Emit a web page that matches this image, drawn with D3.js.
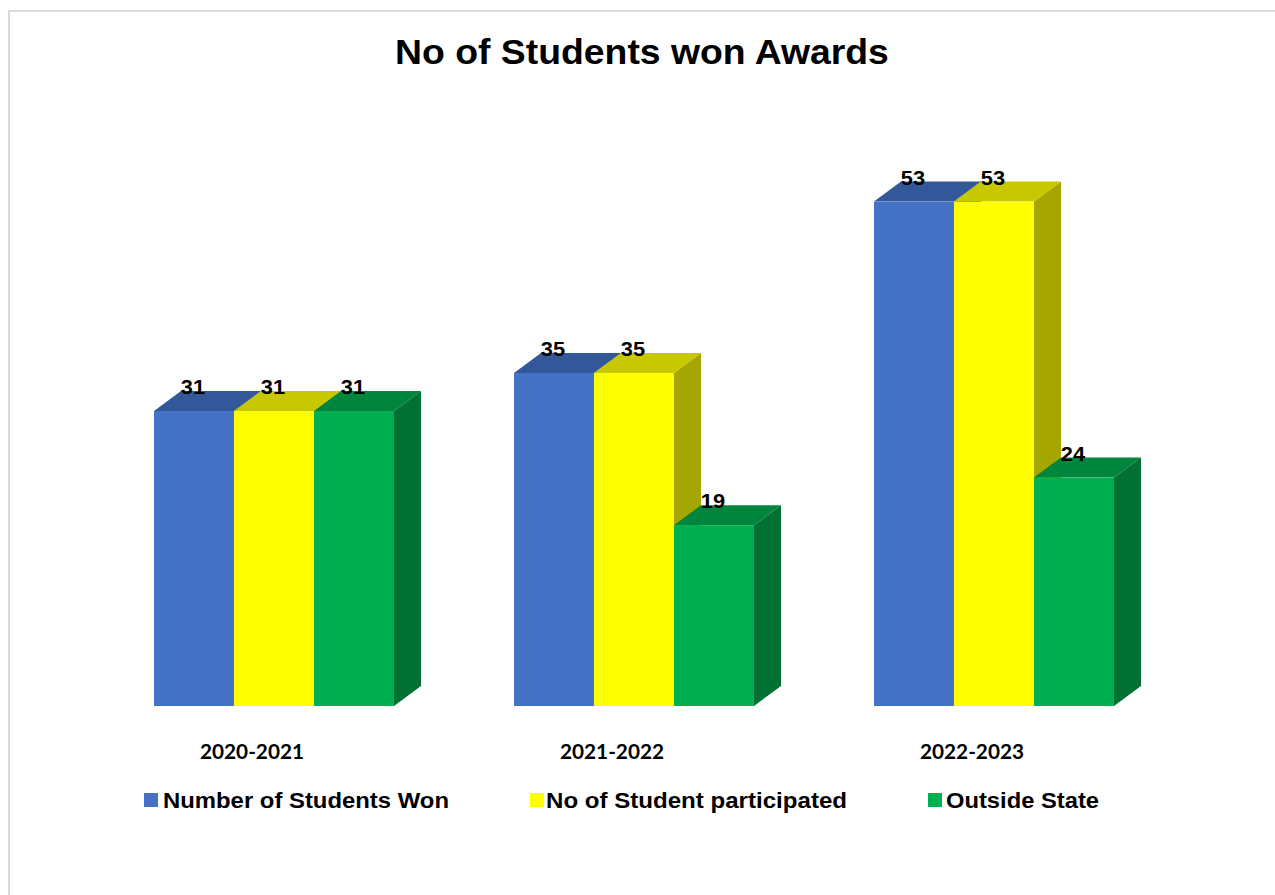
<!DOCTYPE html>
<html>
<head>
<meta charset="utf-8">
<script src="https://cdn.jsdelivr.net/npm/d3@7"></script>
<style>
  body { margin: 0; background: #fff; }
</style>
</head>
<body>
<div id="chart"></div>
<script>
// data
const years = ['2020-2021', '2021-2022', '2022-2023'];
const seriesNames = ['Number of Students Won', 'No of Student participated', 'Outside State'];
const wonValues = [31, 35, 53];
const participatedValues = [31, 35, 53];
const outsideValues = [31, 19, 24];

const w = 1275, h = 895;
const svg = d3.select('#chart').append('svg').attr('width', w).attr('height', h);

// the source text is drawn a bit wider than the fonts we have
const stretch = function(sel, k) {
  sel.each(function() {
    const len = this.getComputedTextLength();
    d3.select(this).attr('textLength', len * k).attr('lengthAdjust', 'spacingAndGlyphs');
  });
};

// light frame round the chart
svg.append('rect')
  .attr('x', 9).attr('y', 11).attr('width', 1270).attr('height', 900)
  .attr('fill', '#fff').attr('stroke', '#d9d9d9').attr('stroke-width', 2);

svg.append('text')
  .attr('x', 642).attr('y', 64)
  .attr('text-anchor', 'middle')
  .style('font-family', 'Liberation Sans, Arial, sans-serif')
  .style('font-weight', 'bold').style('font-size', '35px')
  .text('No of Students won Awards')
  .call(stretch, 1.067);

// front / top / side shades per series
const colors = [
  { front: '#4472C4', top: '#32589a', side: '#2c4f8c' },
  { front: '#FFFF00', top: '#c8c800', side: '#a6a600' },
  { front: '#00B050', top: '#00853d', side: '#007033' }
];

const x0 = d3.scaleBand().domain(years).range([94, 1174]);
const x1 = d3.scaleBand().domain(d3.range(3)).range([60, 300]);
const y = d3.scaleLinear().domain([0, 60]).range([706, 135]);
const dx = 27, dy = 20;

const rows = years.map((yr, i) => ({
  year: yr,
  vals: [wonValues[i], participatedValues[i], outsideValues[i]]
}));

const groups = svg.selectAll('.grp').data(rows).enter()
  .append('g').attr('class', 'grp')
  .attr('transform', d => `translate(${x0(d.year)},0)`);

groups.each(function(d) {
  const g = d3.select(this);
  d.vals.forEach((v, j) => {
    const bx = x1(j), bw = x1.bandwidth();
    const top = y(v), base = y(0);
    const c = colors[j];
    // side
    g.append('path')
      .attr('d', `M${bx + bw},${top} L${bx + bw + dx},${top - dy} L${bx + bw + dx},${base - dy} L${bx + bw},${base} Z`)
      .attr('fill', c.side);
    // top
    g.append('path')
      .attr('d', `M${bx},${top} L${bx + dx},${top - dy} L${bx + bw + dx},${top - dy} L${bx + bw},${top} Z`)
      .attr('fill', c.top);
    // front
    g.append('rect')
      .attr('x', bx).attr('y', top).attr('width', bw).attr('height', base - top)
      .attr('fill', c.front);
  });
  d.vals.forEach((v, j) => {
    g.append('text')
      .attr('x', x1(j) + x1.bandwidth() / 2 - 1)
      .attr('y', y(v) - 17)
      .attr('text-anchor', 'middle')
      .style('font-family', 'Liberation Sans, Arial, sans-serif')
      .style('font-weight', 'bold').style('font-size', '21px')
      .text(v)
      .call(stretch, 1.04);
  });
  g.append('text')
    .attr('x', x0.bandwidth() / 2 - 22)
    .attr('y', 759)
    .attr('text-anchor', 'middle')
    .style('font-family', 'Lato, Carlito, Calibri, sans-serif')
    .style('font-weight', 'bold').style('font-size', '21px')
    .text(d.year)
    .attr('textLength', 104)
    .attr('lengthAdjust', 'spacingAndGlyphs');
});

// legend
const legendX = [144, 530, 928];
const legendTextX = [163, 546, 946];
const legendWidths = [286, 301, 153];
const legend = svg.selectAll('.leg').data(seriesNames).enter()
  .append('g').attr('class', 'leg');
legend.append('rect')
  .attr('x', (d, i) => legendX[i]).attr('y', 793).attr('width', 14).attr('height', 14)
  .attr('fill', (d, i) => colors[i].front);
legend.append('text')
  .attr('x', (d, i) => legendTextX[i]).attr('y', 808)
  .style('font-family', 'Liberation Sans, Arial, sans-serif')
  .style('font-weight', 'bold').style('font-size', '22px')
  .attr('textLength', (d, i) => legendWidths[i])
  .attr('lengthAdjust', 'spacingAndGlyphs')
  .text(d => d);
</script>
</body>
</html>
